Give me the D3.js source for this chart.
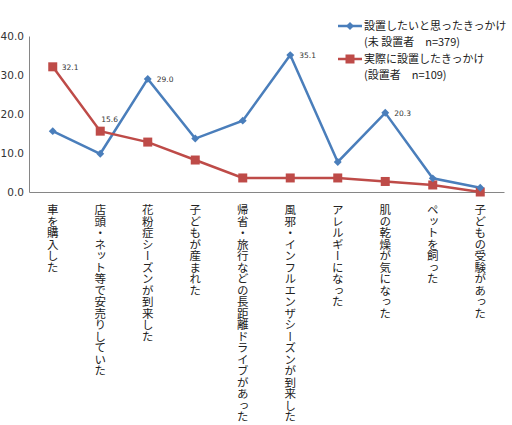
<!DOCTYPE html>
<html><head><meta charset="utf-8">
<script src="https://cdn.jsdelivr.net/npm/d3@7/dist/d3.min.js"></script>
<style>body{margin:0;background:#fff}svg{display:block}</style>
</head><body>
<svg id="c" width="512" height="425"></svg>
<script>
const categories = ["車を購入した","店頭・ネット等で安売りしていた","花粉症シーズンが到来した","子どもが産まれた","帰省・旅行などの長距離ドライブがあった","風邪・インフルエンザシーズンが到来した","アレルギーになった","肌の乾燥が気になった","ペットを飼った","子どもの受験があった"];
const seriesNames = [["設置したいと思ったきっかけ","(未 設置者　n=379)"],["実際に設置したきっかけ","(設置者　n=109)"]];
const wantValues = [15.6, 9.8, 29.0, 13.7, 18.3, 35.1, 7.7, 20.3, 3.5, 1.1];
const actualValues = [32.1, 15.6, 12.8, 8.2, 3.6, 3.6, 3.6, 2.7, 1.8, 0.0];
const wantLabels = [null, null, "29.0", null, null, "35.1", null, "20.3", null, null];
const actualLabels = ["32.1", "15.6", null, null, null, null, null, null, null, null];
const yTicks = [0, 10, 20, 30, 40];

const svg = d3.select("#c");
const font = "'Noto Sans CJK JP', sans-serif";
const x = d3.scaleBand().domain(categories).range([29, 504]);
const y = d3.scaleLinear().domain([0, 40]).range([192, 36]);
const cx = d => x(d) + x.bandwidth()/2;
const blue = "#4a7ebb", red = "#be4b48";

// y axis
const ya = svg.append("g").attr("transform","translate(29,0)")
  .call(d3.axisLeft(y).tickValues(yTicks).tickFormat(d3.format(".1f")).tickSize(0).tickPadding(5));
ya.select(".domain").attr("stroke","#868686");
ya.selectAll("text").attr("font-family","Verdana, 'DejaVu Sans', sans-serif").attr("font-size","10.5px").attr("fill","#333");
// x axis
const xa = svg.append("g").attr("transform","translate(0,192)")
  .call(d3.axisBottom(x).tickSize(0).tickFormat(""));
xa.select(".domain").attr("stroke","#868686");

// category labels vertical
svg.append("g").selectAll("text").data(categories).join("text")
  .attr("x", d => cx(d)).attr("y", 204)
  .attr("font-family", font).attr("font-size","11.5px").attr("fill","#222")
  .style("writing-mode","vertical-rl").style("text-orientation","mixed")
  .text(d => d);

const line = d3.line().x((d,i) => cx(categories[i])).y(d => y(d));
svg.append("path").datum(wantValues).attr("d", line).attr("fill","none").attr("stroke",blue).attr("stroke-width",2.5);
svg.append("path").datum(actualValues).attr("d", line).attr("fill","none").attr("stroke",red).attr("stroke-width",2.5);

// markers
svg.append("g").selectAll("rect").data(actualValues).join("rect")
  .attr("x",(d,i)=>cx(categories[i])-4.5).attr("y",d=>y(d)-4.5).attr("width",9).attr("height",9).attr("fill",red);
svg.append("g").selectAll("path").data(wantValues).join("path")
  .attr("transform",(d,i)=>`translate(${cx(categories[i])},${y(d)})`)
  .attr("d", d3.symbol(d3.symbolDiamond2 || d3.symbolDiamond, 40)).attr("fill",blue);

// data labels
const lblFont = "Verdana, 'DejaVu Sans', sans-serif";
svg.append("g").selectAll("text").data(wantValues.map((v,i)=>({v,i,l:wantLabels[i]})).filter(d=>d.l)).join("text")
  .attr("x",d=>cx(categories[d.i])+9).attr("y",d=>y(d.v)+3)
  .attr("font-family",lblFont).attr("font-size","7.5px").attr("fill","#333").text(d=>d.l);
svg.append("g").selectAll("text").data(actualValues.map((v,i)=>({v,i,l:actualLabels[i]})).filter(d=>d.l)).join("text")
  .attr("x",d=> d.i===0 ? cx(categories[d.i])+9 : cx(categories[d.i])+1)
  .attr("y",d=> d.i===0 ? y(d.v)+3 : y(d.v)-9)
  .attr("font-family",lblFont).attr("font-size","7.5px").attr("fill","#333").text(d=>d.l);

// legend
const lg = svg.append("g");
[blue, red].forEach((c, k) => {
  const ly = 26 + k*33;
  lg.append("line").attr("x1",338).attr("x2",362).attr("y1",ly).attr("y2",ly).attr("stroke",c).attr("stroke-width",2.5);
  if (k===0) lg.append("path").attr("transform",`translate(350,${ly})`).attr("d",d3.symbol(d3.symbolDiamond2||d3.symbolDiamond,40)).attr("fill",c);
  else lg.append("rect").attr("x",345.5).attr("y",ly-4.5).attr("width",9).attr("height",9).attr("fill",c);
  seriesNames[k].forEach((t, j) => {
    lg.append("text").attr("x",364).attr("y",ly+4+j*16).attr("font-family",font).attr("font-size","11px").attr("fill","#222").text(t);
  });
});
</script>
</body></html>
